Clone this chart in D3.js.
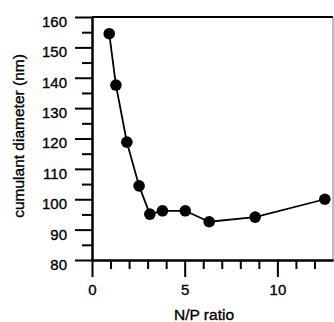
<!DOCTYPE html>
<html>
<head>
<meta charset="utf-8">
<script src="https://cdn.jsdelivr.net/npm/d3@7"></script>
<style>
  body { margin: 0; background: #fff; }
  svg { display: block; font-family: "Liberation Sans", Arial, sans-serif; }
  text { stroke: #000; stroke-width: 0.35px; }
</style>
</head>
<body>
<div id="chart"></div>
<script>
// N/P ratio vs cumulant diameter (nm)
const npRatio = [0.93, 1.29, 1.88, 2.54, 3.12, 3.8, 5.03, 6.32, 8.8, 12.56];
const diameter = [154.5, 137.6, 118.8, 104.4, 95.1, 96.2, 96.2, 92.6, 94.1, 100.0];

const xMajorTicks = [0, 5, 10];
const yMajorTicks = [80, 90, 100, 110, 120, 130, 140, 150, 160];

const W = 334, H = 322;
const margin = { top: 17, right: 1, bottom: 62, left: 92 };
const width = W - margin.left - margin.right;
const height = H - margin.top - margin.bottom;

const svg = d3.select('#chart')
  .append('svg')
  .attr('width', W)
  .attr('height', H);

const g = svg.append('g')
  .attr('transform', `translate(${margin.left},${margin.top})`);

const x = d3.scaleLinear().domain([0, 13]).range([0, width]);
const y = d3.scaleLinear().domain([80, 160]).range([height, 0]);

// frame: top and right borders
g.append('line')
  .attr('x1', 0).attr('x2', width)
  .attr('y1', 0).attr('y2', 0)
  .attr('stroke', '#000').attr('stroke-width', 2);
g.append('line')
  .attr('x1', width).attr('x2', width)
  .attr('y1', 0).attr('y2', height)
  .attr('stroke', '#777').attr('stroke-width', 1);

// minor ticks
g.append('g')
  .call(d3.axisLeft(y).tickValues(d3.range(85, 160, 10)).tickSize(10).tickSizeOuter(0).tickFormat(''));
g.append('g')
  .attr('transform', `translate(0,${height})`)
  .call(d3.axisBottom(x).tickValues(d3.range(1, 13).filter(v => v % 5 !== 0)).tickSize(9).tickSizeOuter(0).tickFormat(''));

// major ticks + labels
const yAxis = g.append('g')
  .call(d3.axisLeft(y).tickValues(yMajorTicks).tickSize(17).tickSizeOuter(0).tickPadding(8));
yAxis.selectAll('text').attr('dy', '0.63em');

g.append('g')
  .attr('transform', `translate(0,${height})`)
  .call(d3.axisBottom(x).tickValues(xMajorTicks).tickSize(17).tickSizeOuter(0).tickPadding(7));

g.selectAll('.tick line').attr('stroke', '#000').attr('stroke-width', 2);
g.selectAll('.domain').attr('stroke', '#000').attr('stroke-width', 2);
g.selectAll('.tick text').attr('fill', '#000').style('font-size', '15px');

// data line
const pts = npRatio.map((v, i) => [v, diameter[i]]);
g.append('path')
  .datum(pts)
  .attr('fill', 'none')
  .attr('stroke', '#000')
  .attr('stroke-width', 1.8)
  .attr('d', d3.line().x(d => x(d[0])).y(d => y(d[1])));

g.selectAll('circle')
  .data(pts)
  .enter().append('circle')
  .attr('cx', d => x(d[0]))
  .attr('cy', d => y(d[1]))
  .attr('r', 5.8)
  .attr('fill', '#000');

// axis titles
svg.append('text')
  .attr('transform', 'translate(24,136) rotate(-90)')
  .attr('text-anchor', 'middle')
  .style('font-size', '15.5px')
  .text('cumulant diameter (nm)');

svg.append('text')
  .attr('x', 204)
  .attr('y', 320)
  .attr('text-anchor', 'middle')
  .style('font-size', '15.5px')
  .text('N/P ratio');
</script>
</body>
</html>
